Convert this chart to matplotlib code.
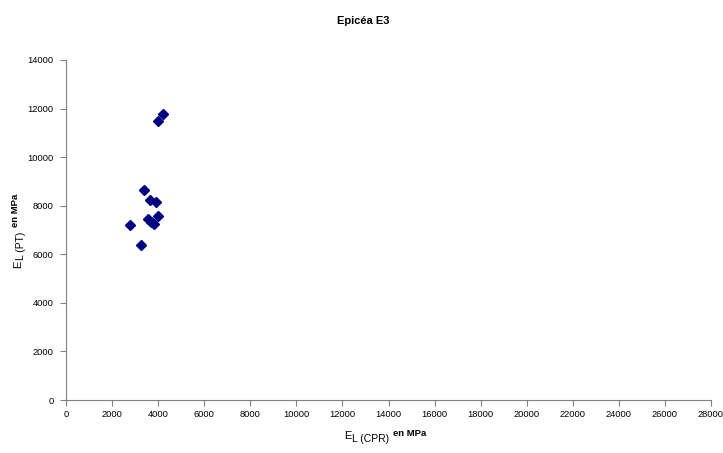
import matplotlib
matplotlib.use("Agg")
import matplotlib.pyplot as plt

x_cpr = [4211, 3994, 3386, 3646, 3907, 3994, 3560, 3700, 3820, 2778, 3256]
y_pt = [11760, 11500, 8660, 8230, 8160, 7590, 7450, 7330, 7240, 7210, 6390]
xticks = list(range(0, 28001, 2000))
yticks = list(range(0, 14001, 2000))

plt.rcParams['font.family'] = ['Liberation Sans', 'DejaVu Sans']

W, H = 723, 453
fig = plt.figure(figsize=(W / 100, H / 100), dpi=100)
ax = fig.add_axes([66 / W, 53 / H, 645 / W, 340 / H])
ax.plot(x_cpr, y_pt, linestyle='none', marker='D', markersize=5.5,
        color='#000080')
ax.set_xlim(0, 28000)
ax.set_ylim(0, 14000)
ax.set_xticks(xticks)
ax.set_yticks(yticks)
ax.tick_params(direction='out', length=4, width=0.8, labelsize=6.7,
               colors='#808080', labelcolor='black')
ax.tick_params(axis='y', pad=5)
for s in ['top', 'right']:
    ax.spines[s].set_visible(False)
for s in ['left', 'bottom']:
    ax.spines[s].set_color('#808080')
    ax.spines[s].set_linewidth(0.8)

fig.text(363 / W, 1 - 21 / H, 'Epicéa E3', ha='center', va='center',
         fontsize=8, fontweight='bold')

fig.canvas.draw()
renderer = fig.canvas.get_renderer()


def px(x, y):
    return x / W, 1 - y / H


def composed(start, sub, rotated):
    # start: pixel position (x, y-from-top) of the start of "E" on its baseline
    parts = [("E", 8, 'normal', 0, 0),
             (sub, 7.5, 'normal', 3, 1),
             ("en MPa", 6.8, 'bold', -3, 4)]
    pos = 0.0
    for text, size, weight, shift, gap in parts:
        pos += gap
        if not rotated:
            x, y = start[0] + pos, start[1] + shift
            t = fig.text(*px(x, y), text, fontsize=size, fontweight=weight,
                         ha='left', va='baseline')
            ext = t.get_window_extent(renderer)
            pos += ext.width
        else:
            x, y = start[0] + shift, start[1] - pos
            t = fig.text(*px(x, y), text, fontsize=size, fontweight=weight,
                         ha='left', va='baseline', rotation=90,
                         rotation_mode='anchor')
            ext = t.get_window_extent(renderer)
            pos += ext.height


composed((344, 439), "L (CPR)", False)
composed((21, 268), "L (PT)", True)

fig.savefig('out.png', dpi=100)
